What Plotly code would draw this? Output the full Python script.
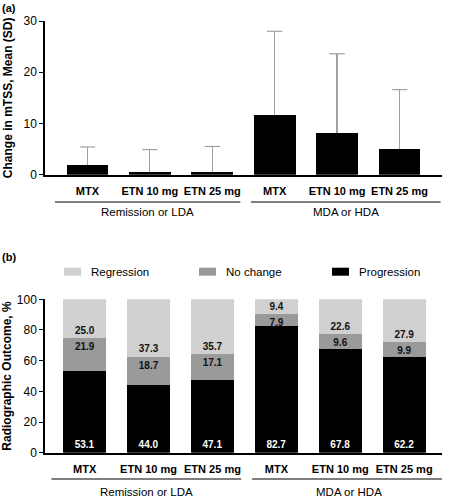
import plotly.graph_objects as go

# ---------------- data ----------------
categories = ["MTX", "ETN 10 mg", "ETN 25 mg", "MTX", "ETN 10 mg", "ETN 25 mg"]
groups = ["Remission or LDA", "MDA or HDA"]

# panel (a): change in mTSS, mean and SD
mtss_mean = [1.8, 0.5, 0.6, 11.7, 8.1, 5.0]
mtss_sd = [3.6, 4.4, 4.9, 16.3, 15.5, 11.6]

# panel (b): radiographic outcome, %
progression = [53.1, 44.0, 47.1, 82.7, 67.8, 62.2]
no_change = [21.9, 18.7, 17.1, 7.9, 9.6, 9.9]
regression = [25.0, 37.3, 35.7, 9.4, 22.6, 27.9]

series_names = ["Regression", "No change", "Progression"]
series_colors = ["#d0d0d0", "#9a9a9a", "#000000"]

yticks_a = [0, 10, 20, 30]
yticks_b = [0, 20, 40, 60, 80, 100]

FONT = "Liberation Sans, Arial, Helvetica, sans-serif"
xpos = list(range(len(categories)))
fmt = lambda v: f"{v:.1f}"
ERR_COLOR = "#a0a0a0"

fig = go.Figure()

# ---- panel (a) ----
fig.add_trace(go.Bar(
    x=xpos, y=mtss_mean, width=0.67, marker=dict(color="#000000", line=dict(width=0)),
    error_y=dict(type="data", symmetric=False, array=mtss_sd, arrayminus=[0] * len(mtss_sd),
                 color=ERR_COLOR, thickness=1.2, width=0),
    xaxis="x", yaxis="y", showlegend=False, hoverinfo="skip"))
# caps at the top of the SD whiskers
fig.add_trace(go.Scatter(
    x=xpos, y=[m + s for m, s in zip(mtss_mean, mtss_sd)], mode="markers",
    marker=dict(symbol="line-ew-open", size=11, color=ERR_COLOR, line=dict(color=ERR_COLOR, width=1.2)),
    xaxis="x", yaxis="y", showlegend=False, hoverinfo="skip", cliponaxis=False))

# ---- panel (b) ----
fig.add_trace(go.Bar(
    x=xpos, y=progression, width=0.67, name=series_names[2],
    marker=dict(color=series_colors[2], line=dict(width=0)),
    text=[fmt(v) for v in progression], textposition="inside", insidetextanchor="start",
    textfont=dict(color="white", size=10, family=FONT, weight="bold"), textangle=0,
    xaxis="x2", yaxis="y2", showlegend=False, hoverinfo="skip"))
fig.add_trace(go.Bar(
    x=xpos, y=no_change, width=0.67, name=series_names[1],
    marker=dict(color=series_colors[1], line=dict(width=0)),
    xaxis="x2", yaxis="y2", showlegend=False, hoverinfo="skip"))
fig.add_trace(go.Bar(
    x=xpos, y=regression, width=0.67, name=series_names[0],
    marker=dict(color=series_colors[0], line=dict(width=0)),
    xaxis="x2", yaxis="y2", showlegend=False, hoverinfo="skip"))

boundary = [p + n for p, n in zip(progression, no_change)]
fig.add_trace(go.Scatter(
    x=xpos, y=boundary, mode="markers+text", text=[fmt(v) for v in no_change],
    marker=dict(size=6, color="rgba(0,0,0,0)"),
    textposition="bottom center", textfont=dict(color="#111111", size=10, family=FONT, weight="bold"),
    xaxis="x2", yaxis="y2", showlegend=False, hoverinfo="skip"))
fig.add_trace(go.Scatter(
    x=xpos, y=boundary, mode="markers+text", text=[fmt(v) for v in regression],
    marker=dict(size=1, color="rgba(0,0,0,0)"),
    textposition="top center", textfont=dict(color="#111111", size=10, family=FONT, weight="bold"),
    xaxis="x2", yaxis="y2", showlegend=False, hoverinfo="skip"))

xaxis_common = dict(
    tickmode="array", tickvals=xpos, ticktext=categories, showline=True, linecolor="black",
    linewidth=1.5, ticks="", showgrid=False, zeroline=False, fixedrange=True, automargin=False,
    tickfont=dict(size=11, family=FONT, color="black", weight="bold"), ticklabelstandoff=5,
    domain=[0.1, 0.982])
yaxis_common = dict(
    showline=True, linecolor="black", linewidth=1.5, ticks="outside", ticklen=4, tickwidth=1.2,
    tickcolor="black", showgrid=False, zeroline=False, fixedrange=True, automargin=False,
    tickfont=dict(size=12, family=FONT, color="black"),
    title_font=dict(size=12, family=FONT, color="black", weight="bold"), title_standoff=8)

fig.update_layout(
    width=450, height=500, margin=dict(l=0, r=0, t=0, b=0, autoexpand=False),
    paper_bgcolor="white", plot_bgcolor="white", barmode="stack", showlegend=False,
    font=dict(family=FONT, color="black"),
    xaxis=dict(xaxis_common, range=[-0.68, 5.68], anchor="y"),
    yaxis=dict(yaxis_common, range=[0, 30], tickvals=yticks_a, domain=[0.6507, 0.958],
               title_text="Change in mTSS, Mean (SD)", anchor="x"),
    xaxis2=dict(xaxis_common, range=[-0.62, 5.59], anchor="y2"),
    yaxis2=dict(yaxis_common, range=[0, 100], tickvals=yticks_b, domain=[0.0946, 0.4014],
                title_text="Radiographic Outcome, %", anchor="x2"),
)

shapes = []
annotations = []
# group lines and labels
group_spans = [(-0.52, 2.45), (2.62, 5.66)]
for xa, line_y, lab_y in [("x", 0.596, 0.576), ("x2", 0.042, 0.0166)]:
    for (x0, x1), g in zip(group_spans, groups):
        shapes.append(dict(type="line", xref=xa, yref="paper", x0=x0, x1=x1, y0=line_y, y1=line_y,
                           line=dict(color="black", width=1.2)))
        annotations.append(dict(xref=xa, yref="paper", x=(x0 + x1) / 2, y=lab_y, text=g, showarrow=False,
                                font=dict(size=11.5, family=FONT, color="black"),
                                xanchor="center", yanchor="middle"))

# panel letters
annotations.append(dict(xref="paper", yref="paper", x=0.0, y=1 - 8 / 500, text="<b>(a)</b>", showarrow=False,
                        xanchor="left", yanchor="middle", font=dict(size=11, family=FONT, color="black")))
annotations.append(dict(xref="paper", yref="paper", x=0.0, y=1 - 257 / 500, text="<b>(b)</b>", showarrow=False,
                        xanchor="left", yanchor="middle", font=dict(size=11, family=FONT, color="black")))

# legend (manual)
leg_x = [64, 199, 332]
leg_y = 271.7
for lx, name, col in zip(leg_x, series_names, series_colors):
    shapes.append(dict(type="rect", xref="paper", yref="paper", x0=lx / 450, x1=(lx + 17) / 450,
                       y0=1 - (leg_y + 4) / 500, y1=1 - (leg_y - 4) / 500,
                       fillcolor=col, line=dict(width=0)))
    annotations.append(dict(xref="paper", yref="paper", x=(lx + 25) / 450, y=1 - leg_y / 500, text=name,
                            showarrow=False, xanchor="left", yanchor="middle",
                            font=dict(size=11.5, family=FONT, color="black")))

fig.update_layout(shapes=shapes, annotations=annotations)
fig.write_html("out.html", config={"displayModeBar": False},
               post_script="document.body.style.margin='0';document.body.style.overflow='hidden';")
